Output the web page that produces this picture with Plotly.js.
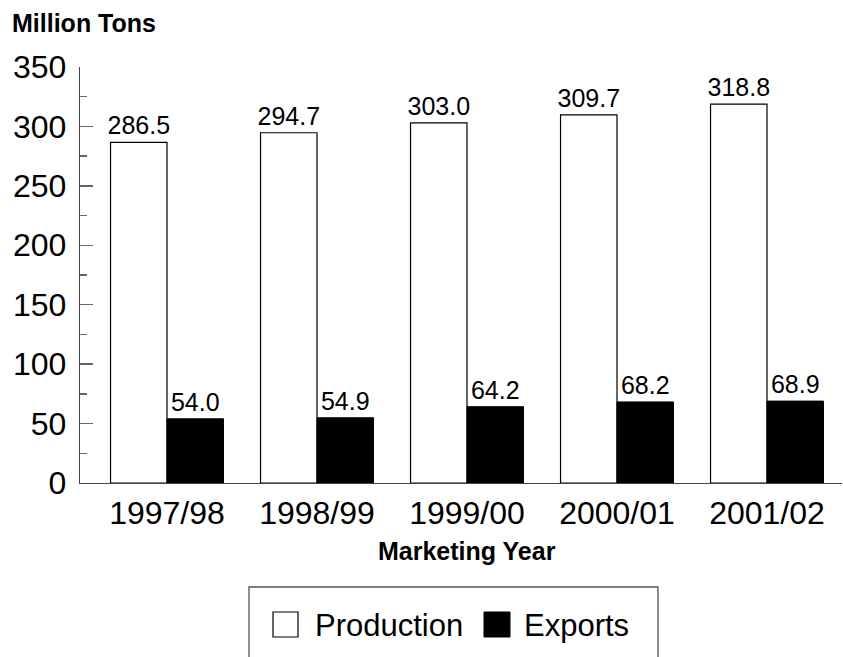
<!DOCTYPE html>
<html>
<head>
<meta charset="utf-8">
<script src="https://cdn.plot.ly/plotly-3.0.1.min.js"></script>
<style>html,body{margin:0;padding:0;background:#fff;}#chart{width:843px;height:657px;}</style>
</head>
<body>
<div id="chart"></div>
<script>
const years = ["1997/98", "1998/99", "1999/00", "2000/01", "2001/02"];
const production = [286.5, 294.7, 303.0, 309.7, 318.8];
const exportsVals = [54.0, 54.9, 64.2, 68.2, 68.9];
const seriesNames = ["Production", "Exports"];
const yTitle = "Million Tons";
const xTitle = "Marketing Year";

const W = 843, H = 657;
const M = {l: 80, r: 1, t: 67, b: 174};
const PW = W - M.l - M.r, PH = H - M.t - M.b;
const px = v => (v - M.l) / PW;
const py = v => (H - M.b - v) / PH;
const FONT = '"Liberation Sans", Arial, sans-serif';

const traces = [
  {
    type: 'bar', name: seriesNames[0], x: years, y: production,
    marker: {color: '#ffffff', line: {color: '#000000', width: 1.2}},
    text: production.map(v => v.toFixed(1)), textposition: 'outside',
    textangle: 0, constraintext: 'none', cliponaxis: false,
    textfont: {family: FONT, size: 25, color: '#000'}, showlegend: false, hoverinfo: 'skip'
  },
  {
    type: 'bar', name: seriesNames[1], x: years, y: exportsVals,
    marker: {color: '#000000', line: {color: '#000000', width: 1}},
    text: exportsVals.map(v => v.toFixed(1)), textposition: 'outside',
    textangle: 0, constraintext: 'none', cliponaxis: false,
    textfont: {family: FONT, size: 25, color: '#000'}, showlegend: false, hoverinfo: 'skip'
  }
];

const layout = {
  width: W, height: H,
  margin: M,
  paper_bgcolor: '#fff', plot_bgcolor: '#fff',
  font: {family: FONT, color: '#000'},
  barmode: 'group', bargap: 0.247, bargroupgap: 0,
  showlegend: false,
  xaxis: {
    type: 'category', range: [-0.58, 4.5],
    showline: true, linecolor: '#444', linewidth: 1.3,
    ticks: '', showgrid: false, zeroline: false,
    tickfont: {family: FONT, size: 32, color: '#000'},
    ticklabelstandoff: 1
  },
  yaxis: {
    range: [0, 350], dtick: 50, tick0: 0,
    showline: true, linecolor: '#444', linewidth: 1.3,
    ticks: 'inside', ticklen: 13, tickcolor: '#666', tickwidth: 1.3,
    minor: {dtick: 25, ticks: 'inside', ticklen: 7, tickcolor: '#666', tickwidth: 1.3, showgrid: false},
    showgrid: false, zeroline: false,
    tickfont: {family: FONT, size: 32, color: '#000'},
    ticklabelstandoff: 6
  },
  shapes: [
    {type: 'rect', xref: 'paper', yref: 'paper', x0: px(249), x1: px(658), y0: py(587), y1: py(720),
     line: {color: '#555', width: 1.3}, fillcolor: 'rgba(0,0,0,0)'},
    {type: 'rect', xref: 'paper', yref: 'paper', x0: px(273), x1: px(298), y0: py(612), y1: py(637),
     line: {color: '#000', width: 1.2}, fillcolor: '#fff'},
    {type: 'rect', xref: 'paper', yref: 'paper', x0: px(484), x1: px(510), y0: py(612), y1: py(637),
     line: {color: '#000', width: 1}, fillcolor: '#000'}
  ],
  annotations: [
    {text: '<b>' + yTitle + '</b>', xref: 'paper', yref: 'paper', x: px(10), y: py(23.5),
     xanchor: 'left', yanchor: 'middle', showarrow: false, font: {family: FONT, size: 25, color: '#000'}},
    {text: '<b>' + xTitle + '</b>', xref: 'paper', yref: 'paper', x: px(467), y: py(551),
     xanchor: 'center', yanchor: 'middle', showarrow: false, font: {family: FONT, size: 25, color: '#000'}},
    {text: seriesNames[0], xref: 'paper', yref: 'paper', x: px(313), y: py(625),
     xanchor: 'left', yanchor: 'middle', showarrow: false, font: {family: FONT, size: 31, color: '#000'}},
    {text: seriesNames[1], xref: 'paper', yref: 'paper', x: px(522), y: py(625),
     xanchor: 'left', yanchor: 'middle', showarrow: false, font: {family: FONT, size: 31, color: '#000'}}
  ]
};

Plotly.newPlot('chart', traces, layout, {staticPlot: true, displayModeBar: false});
</script>
</body>
</html>
